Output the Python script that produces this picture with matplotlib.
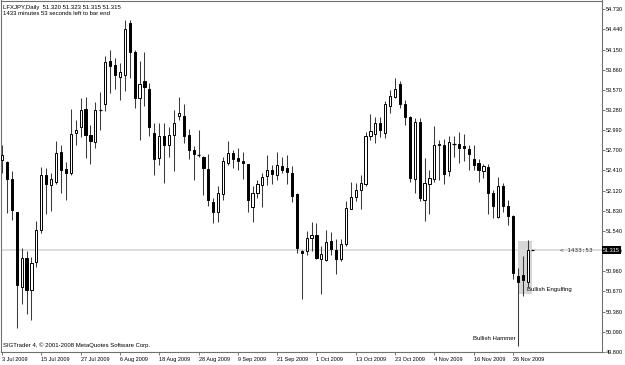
import matplotlib
matplotlib.use('Agg')
import matplotlib.pyplot as plt
from matplotlib.patches import Rectangle
import matplotlib.transforms as mtransforms

# ---------------- data (daily OHLC, LFXJPY) ----------------
opens = [52.61, 52.58, 52.34, 51.87, 50.79, 51.20, 50.74, 51.15, 51.60, 52.39,
         52.25, 52.30, 52.73, 52.48, 52.42, 53.00, 53.08, 53.34, 52.97, 52.87,
         53.33, 53.41, 54.03, 53.98, 53.81, 53.84, 54.58, 54.17, 53.50, 53.74,
         53.63, 53.00, 52.64, 52.95, 52.83, 52.97, 53.25, 53.24, 52.97, 52.76,
         52.69, 52.65, 52.48, 52.00, 51.87, 52.12, 52.57, 52.71, 52.64, 52.60,
         52.55, 51.94, 52.14, 52.25, 52.38, 52.47, 52.40, 52.53, 52.50, 52.43,
         52.12, 51.30, 51.30, 51.49, 51.53, 51.19, 51.17, 51.45, 51.31, 51.18,
         51.40, 51.91, 52.08, 52.18, 52.27, 52.95, 52.98, 53.14, 53.00, 53.39,
         53.52, 53.70, 53.41, 53.23, 52.34, 53.16, 52.04, 52.27, 52.34, 52.84,
         52.83, 52.45, 52.85, 52.84, 52.81, 52.77, 52.63, 52.57, 52.45, 52.51,
         52.14, 51.79, 52.23, 51.95, 51.80, 50.94, 50.95, 50.85, 51.320]
highs = [52.83, 52.59, 52.45, 51.87, 51.35, 51.30, 51.22, 51.73, 52.51, 52.50,
         52.43, 52.89, 52.82, 52.58, 53.35, 53.19, 53.50, 53.52, 53.12, 53.45,
         53.59, 54.10, 54.19, 54.08, 54.00, 54.63, 54.62, 54.20, 54.03, 54.17,
         53.72, 53.14, 53.14, 53.14, 53.09, 53.33, 53.51, 53.41, 53.05, 52.81,
         53.04, 52.67, 52.70, 52.06, 52.23, 52.66, 52.88, 52.76, 52.78, 52.72,
         52.56, 52.24, 52.33, 52.43, 52.68, 52.54, 52.73, 52.66, 52.68, 52.52,
         52.14, 51.31, 51.59, 51.72, 51.71, 51.38, 51.61, 51.57, 51.47, 51.48,
         52.02, 52.29, 52.28, 52.40, 53.02, 53.27, 53.23, 53.23, 53.46, 53.62,
         53.79, 53.75, 53.48, 53.24, 53.21, 53.22, 52.64, 52.47, 53.10, 52.90,
         52.92, 52.95, 52.95, 53.02, 52.98, 52.83, 52.82, 52.63, 52.56, 52.55,
         52.18, 52.36, 52.28, 52.04, 51.82, 51.06, 51.23, 51.46, 51.323]
lows = [52.42, 51.85, 51.75, 50.19, 50.54, 50.39, 50.31, 51.07, 51.56, 51.83,
        51.88, 52.26, 52.14, 52.04, 52.39, 52.83, 52.94, 52.64, 52.56, 52.78,
        53.04, 53.31, 53.57, 53.63, 53.48, 53.61, 53.79, 53.36, 52.90, 53.39,
        52.95, 52.40, 52.54, 52.28, 52.65, 52.45, 53.19, 52.85, 52.62, 52.32,
        52.66, 52.11, 51.95, 51.71, 51.72, 52.04, 52.54, 52.49, 52.47, 52.34,
        51.87, 51.72, 52.06, 51.94, 52.25, 52.26, 52.33, 52.42, 52.27, 52.00,
        51.28, 50.61, 51.24, 51.30, 51.19, 50.68, 51.16, 51.25, 50.97, 51.16,
        51.38, 51.90, 52.02, 51.91, 52.23, 52.90, 52.85, 52.94, 52.93, 53.28,
        53.50, 53.36, 53.12, 52.30, 52.14, 52.02, 51.73, 51.83, 52.29, 52.32,
        52.27, 52.38, 52.66, 52.57, 52.59, 52.46, 52.46, 52.29, 52.35, 51.84,
        51.78, 51.77, 51.87, 51.68, 50.90, 49.94, 50.65, 50.78, 51.315]
closes = [52.68, 52.34, 51.89, 50.82, 51.20, 50.74, 51.13, 51.61, 52.39, 52.27,
          52.34, 52.71, 52.47, 52.43, 52.99, 53.04, 53.33, 52.97, 52.88, 53.33,
          53.34, 54.02, 53.97, 53.84, 53.87, 54.50, 54.17, 53.50, 53.71, 53.66,
          53.08, 52.62, 52.95, 52.82, 52.97, 53.15, 53.28, 52.96, 52.76, 52.70,
          52.68, 52.50, 52.03, 51.86, 52.14, 52.59, 52.71, 52.63, 52.60, 52.57,
          52.04, 52.14, 52.27, 52.36, 52.47, 52.41, 52.54, 52.46, 52.44, 52.10,
          51.35, 51.27, 51.49, 51.53, 51.20, 51.26, 51.43, 51.33, 51.18, 51.40,
          51.92, 52.08, 52.18, 52.28, 52.95, 53.03, 53.14, 53.04, 53.41, 53.53,
          53.63, 53.41, 53.23, 52.35, 53.16, 52.07, 52.28, 52.35, 52.83, 52.82,
          52.41, 52.87, 52.84, 52.79, 52.78, 52.70, 52.54, 52.46, 52.53, 52.14,
          51.95, 52.24, 51.95, 51.80, 50.99, 50.86, 50.88, 51.32, 51.315]

date_labels = ['3 Jul 2009', '15 Jul 2009', '27 Jul 2009', '6 Aug 2009',
               '18 Aug 2009', '28 Aug 2009', '9 Sep 2009', '21 Sep 2009',
               '1 Oct 2009', '13 Oct 2009', '23 Oct 2009', '4 Nov 2009',
               '16 Nov 2009', '26 Nov 2009']
DATE_STEP = 8
price_ticks = [54.730, 54.440, 54.150, 53.860, 53.570, 53.280, 52.990, 52.700,
               52.410, 52.120, 51.830, 51.540, 51.250, 50.960, 50.670, 50.380,
               50.090, 49.800]
bid = 51.315
header_vals = [51.320, 51.323, 51.315, 51.315]
symbol = 'LFXJPY,Daily'
header_line2 = '1433 minutes 53 seconds left to bar end'
timer_text = '< 1433:53'
footer = 'SIGTrader 4, \u00a9 2001-2008 MetaQuotes Software Corp.'
pattern_bars = [105, 106, 107]     # bars covered by the highlighted pattern
pattern_low, pattern_high = 50.68, 51.44

# ---------------- style ----------------
plt.rcParams['font.family'] = ['Liberation Sans', 'DejaVu Sans']
FS = 4.3
FS_AX = 4.0
SCALE_SHIFT = 0.05   # MT4 draws its scale labels slightly above the level

fig = plt.figure(figsize=(6.25, 3.65), dpi=100)
fig.patch.set_facecolor('white')
ax = fig.add_axes([1 / 625, 12.7 / 365, 600.7 / 625, 351.8 / 365])
ax.set_facecolor('white')

n = len(opens)
BODY_W = 0.44
for k in range(n):
    o, h, l, c = opens[k], highs[k], lows[k], closes[k]
    ax.vlines(k, l, h, color='#3a3a3a', lw=0.75, zorder=2)
    lo, hi = min(o, c), max(o, c)
    if hi - lo < 0.012:
        ax.hlines((o + c) / 2, k - BODY_W / 2 - 0.12, k + BODY_W / 2 + 0.12,
                  color='black', lw=0.9, zorder=3)
    else:
        ax.add_patch(Rectangle((k - BODY_W / 2, lo), BODY_W, hi - lo,
                               facecolor='white' if c >= o else 'black',
                               edgecolor='black', lw=0.7, zorder=3))

# bid line
ax.axhline(bid, color='#dadada', lw=1.3, zorder=1)

# highlighted pattern
x0 = pattern_bars[0] - 0.05
ax.add_patch(Rectangle((x0, pattern_low), pattern_bars[-1] - pattern_bars[0] + 1,
                       pattern_high - pattern_low, facecolor='#d6d6d6',
                       edgecolor='none', zorder=0.8))
ax.text(pattern_bars[-1] - 0.1, 50.75, 'Bullish Engulfing', fontsize=FS,
        ha='left', va='center', zorder=6)
ax.text(pattern_bars[0] - 0.4, 50.04, 'Bullish Hammer', fontsize=FS,
        ha='right', va='center', zorder=6)
ax.text(113.6, bid, timer_text, fontsize=FS, ha='left', va='center',
        color='#333333', family=['DejaVu Sans Mono'], zorder=6)

# header / footer
hdr = symbol + '  ' + ' '.join(f'{v:.3f}' for v in header_vals)
ax.text(2 / 600.7, 1 - 6.5 / 351.8, hdr, transform=ax.transAxes, fontsize=FS,
        ha='left', va='center')
ax.text(2 / 600.7, 1 - 13 / 351.8, header_line2, transform=ax.transAxes,
        fontsize=FS, ha='left', va='center')
ax.text(2 / 600.7, 7.5 / 351.8, footer, transform=ax.transAxes, fontsize=FS,
        ha='left', va='center')

# axes limits
ax.set_xlim(-0.2, 122.06)
ax.set_ylim(49.845, 54.905)

# price scale on the right
ax.yaxis.tick_right()
ax.set_yticks([v + SCALE_SHIFT for v in price_ticks])
ax.set_yticklabels([f'{v:.3f}' for v in price_ticks])
ax.tick_params(axis='y', length=2.0, width=0.6, pad=0.8, labelsize=FS_AX,
               color='#606060', labelcolor='black')

# current price box
trans = mtransforms.blended_transform_factory(ax.transAxes, ax.transData)
ax.text(1.0 + 1.5 / 600.7, bid, f'{bid:.3f}', transform=trans, fontsize=FS_AX,
        color='white', ha='left', va='center', clip_on=False, zorder=20,
        bbox=dict(boxstyle='square,pad=0.2', fc='black', ec='none'))

# date scale
ax.set_xticks(list(range(0, DATE_STEP * len(date_labels), DATE_STEP)))
ax.set_xticklabels(date_labels)
for t in ax.get_xticklabels():
    t.set_ha('left')
ax.tick_params(axis='x', length=2.5, width=0.6, pad=0.8, labelsize=FS_AX,
               color='#606060')

for s in ax.spines.values():
    s.set_color('#707070')
    s.set_linewidth(0.8)

fig.savefig('out.png', dpi=100, facecolor='white')
